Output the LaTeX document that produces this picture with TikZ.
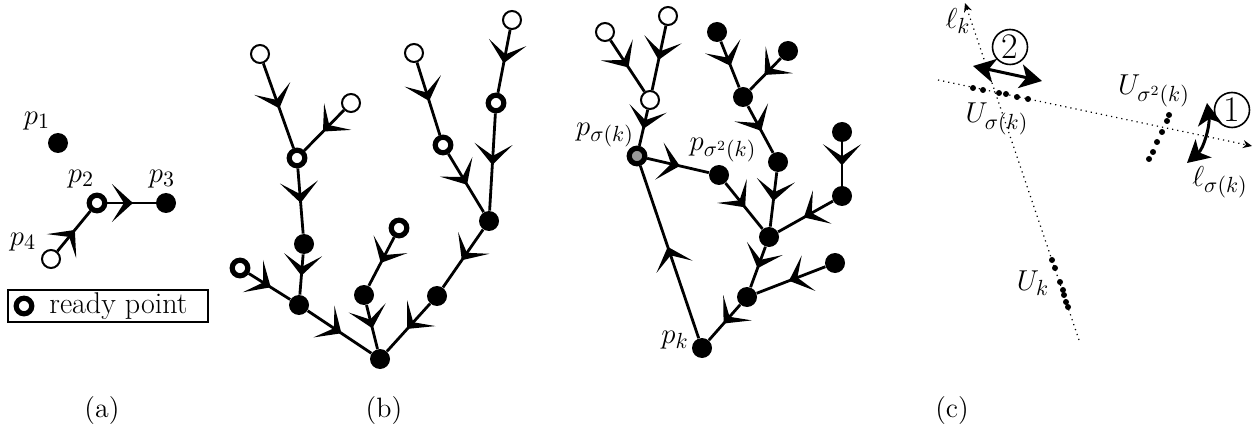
\documentclass[tikz,border=0pt]{standalone}
\usetikzlibrary{arrows.meta,decorations.markings}
\begin{document}
\begin{tikzpicture}[x=0.5pt,y=-0.5pt,
 fdot/.style={circle,fill=black,inner sep=0pt,minimum size=10pt},
 odot/.style={circle,draw,fill=white,line width=1pt,inner sep=0pt,minimum size=9pt},
 rdot/.style={circle,draw,fill=white,line width=2.6pt,inner sep=0pt,minimum size=7.8pt},
 gdot/.style={rdot,fill=black!40},
 link/.style={line width=1.4pt,postaction={decorate},
   decoration={markings,mark=at position 0.53 with {\arrow{Stealth[length=10.5pt,width=19pt,inset=6pt]}}}},
 lbl/.style={font=\fontsize{15}{17}\selectfont,inner sep=0pt},
 captxt/.style={font=\fontsize{14}{16}\selectfont,inner sep=0pt},
 sdot/.style={circle,fill=black,inner sep=0pt,minimum size=3pt},
 dline/.style={line width=0.6pt,dotted,-{Stealth[length=4.5pt,width=4pt]}},
 dbl/.style={line width=1.5pt,{Stealth[length=11pt,width=12pt,inset=3pt]}-{Stealth[length=11pt,width=12pt,inset=3pt]}},
 circnum/.style={circle,draw,line width=0.8pt,inner sep=0pt,minimum size=17.5pt,font=\fontsize{18}{20}\selectfont}
]
\useasboundingbox (0,0) rectangle (1257,427);

% ---------- panel (a)
\node[fdot] (p1) at (58,143) {};
\node[rdot] (p2) at (97,203) {};
\node[fdot] (p3) at (166,203) {};
\node[odot] (p4) at (51,259) {};
\node[lbl] (lp1) at (37,121) {$p_1$};
\node[lbl] (lp2) at (81,179) {$p_2$};
\node[lbl] (lp3) at (162,179) {$p_3$};
\node[lbl] (lp4) at (23,242) {$p_4$};
\draw[link] (p4) -- (p2);
\draw[link] (p2) -- (p3);
\node[draw,line width=0.6pt,minimum width=100pt,minimum height=16pt,inner sep=0pt] (legend) at (108,306) {};
\node[rdot] (legicon) at (24,306) {};
\node[lbl,anchor=base west] (legtext) at (49,313) {ready point};
\node[captxt] (capa) at (102,411) {(a)};

% ---------- panel (b)
\node[odot] (A) at (260,54) {};
\node[odot] (B) at (351,103) {};
\node[rdot] (C) at (297,158) {};
\node[fdot] (D) at (304,244) {};
\node[rdot] (E) at (240,268) {};
\node[fdot] (F) at (299,305) {};
\node[fdot] (G) at (380,359) {};
\node[rdot] (H) at (399,228) {};
\node[fdot] (I) at (364,295) {};
\node[odot] (J) at (414,53) {};
\node[rdot] (K) at (443,145) {};
\node[odot] (L) at (512,20) {};
\node[rdot] (M) at (496,103) {};
\node[fdot] (N) at (489,221) {};
\node[fdot] (O) at (437,296) {};
\draw[link] (A) -- (C);
\draw[link] (B) -- (C);
\draw[link] (C) -- (D);
\draw[link] (D) -- (F);
\draw[link] (E) -- (F);
\draw[link] (F) -- (G);
\draw[link] (H) -- (I);
\draw[link] (I) -- (G);
\draw[link] (J) -- (K);
\draw[link] (K) -- (N);
\draw[link] (L) -- (M);
\draw[link] (M) -- (N);
\draw[link] (N) -- (O);
\draw[link] (O) -- (G);
\node[captxt] (capb) at (384,411) {(b)};

% ---------- middle tree
\node[odot] (ma) at (605,32) {};
\node[odot] (mb) at (668,16) {};
\node[odot] (mc) at (650,100) {};
\node[gdot] (ms) at (637,156) {};
\node[fdot] (mt) at (719,175) {};
\node[fdot] (mk) at (702,348) {};
\node[fdot] (md) at (717,32) {};
\node[fdot] (me) at (788,51) {};
\node[fdot] (mf) at (743,97) {};
\node[fdot] (mg) at (778,162) {};
\node[fdot] (mh) at (842,132) {};
\node[fdot] (mi) at (842,196) {};
\node[fdot] (mj) at (769,237) {};
\node[fdot] (mm) at (835,263) {};
\node[fdot] (ml) at (747,297) {};
\draw[link] (ma) -- (mc);
\draw[link] (mb) -- (mc);
\draw[link] (mc) -- (ms);
\draw[link] (ms) -- (mt);
\draw[link] (mk) -- (ms);
\draw[link] (mt) -- (mj);
\draw[link] (md) -- (mf);
\draw[link] (me) -- (mf);
\draw[link] (mf) -- (mg);
\draw[link] (mg) -- (mj);
\draw[link] (mh) -- (mi);
\draw[link] (mi) -- (mj);
\draw[link] (mj) -- (ml);
\draw[link] (mm) -- (ml);
\draw[link] (ml) -- (mk);
\node[lbl] (lms) at (605,135) {$p_{\sigma(k)}$};
\node[lbl] (lmt) at (723,150) {$p_{\sigma^2(k)}$};
\node[lbl] (lmk) at (675,340) {$p_k$};

% ---------- panel (c)
\coordinate (lkS) at (1079,340);
\coordinate (lkE) at (965,3);
\coordinate (lsS) at (938,80);
\coordinate (lsE) at (1252,146);
\draw[dline] (lkS) -- (lkE);
\draw[dline] (lsS) -- (lsE);
\foreach \i/\p in {1/{973,88},2/{983,90},3/{999,93},4/{1006,94},5/{1017,97},6/{1028,99}}
  \node[sdot] (us\i) at (\p) {};
\foreach \i/\p in {1/{1169,115},2/{1167,121},3/{1162,132},4/{1157,142},5/{1153,152},6/{1149,159}}
  \node[sdot] (ut\i) at (\p) {};
\foreach \i/\p in {1/{1052,260},2/{1055,268},3/{1060,282},4/{1063,290},5/{1064,295},6/{1066,302},7/{1068,307}}
  \node[sdot] (uk\i) at (\p) {};
\node[lbl] (llk) at (958,21) {$\ell_k$};
\node[lbl] (lus) at (997,119) {$U_{\sigma(k)}$};
\node[lbl] (lut) at (1154,91) {$U_{\sigma^2(k)}$};
\node[lbl] (luk) at (1033,283) {$U_k$};
\node[lbl] (lls) at (1220,182) {$\ell_{\sigma(k)}$};
\node[circnum] (two) at (1010,47) {2};
\node[circnum] (one) at (1232,110) {1};
\coordinate (twoL) at (973,66);
\coordinate (twoR) at (1042,81);
\draw[dbl] (twoL) -- (twoR);
\coordinate (oneT) at (1207,103);
\coordinate (oneB) at (1187,163);
\draw[dbl] (oneT) .. controls (1210,125) and (1204,148) .. (oneB);
\node[captxt] (capc) at (952,411) {(c)};
\end{tikzpicture}
\end{document}
